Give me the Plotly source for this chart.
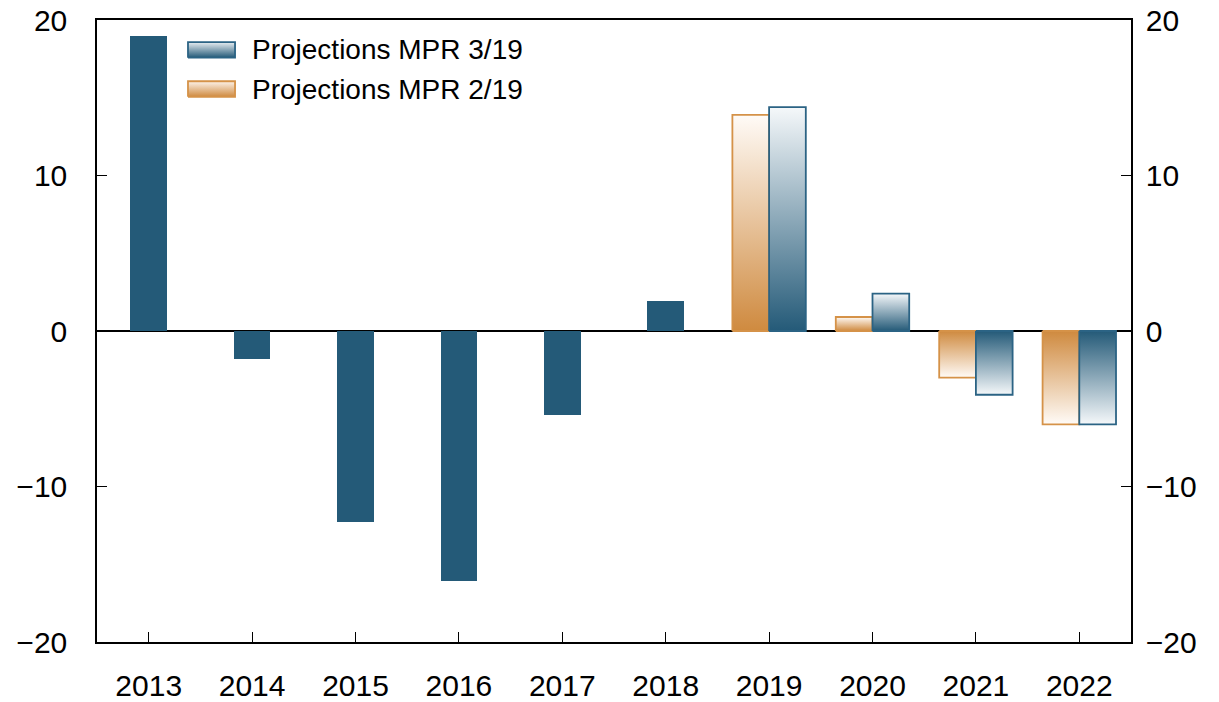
import plotly.graph_objects as go

# ---- data ----
years = ["2013", "2014", "2015", "2016", "2017", "2018", "2019", "2020", "2021", "2022"]
history_years = ["2013", "2014", "2015", "2016", "2017", "2018"]
history_values = [19.0, -1.8, -12.3, -16.1, -5.4, 1.9]
proj_years = ["2019", "2020", "2021", "2022"]
mpr_3_19 = [14.4, 2.4, -4.1, -6.0]
mpr_2_19 = [13.9, 0.9, -3.0, -6.0]
series_names = ["Projections MPR 3/19", "Projections MPR 2/19"]
y_ticks = [-20, -10, 0, 10, 20]

# ---- style ----
BLUE = "#245a78"
BLUE_EDGE = "#2b6384"
BLUE_LIGHT = "#f5f8fa"
ORANGE = "#cf8a3f"
ORANGE_EDGE = "#d59248"
ORANGE_LIGHT = "#fffbf7"
W = 0.355
FONT = "Liberation Sans, Arial, Helvetica, sans-serif"

pos = {y: i for i, y in enumerate(years)}

fig = go.Figure()

fig.add_trace(go.Bar(
    x=[pos[y] for y in history_years], y=history_values, width=W,
    marker=dict(color=BLUE, line=dict(width=0)),
    showlegend=False, hoverinfo="x+y",
))


def grad_poly(x0, x1, y0, y1, dark, light, edge, name, xa="x", ya="y"):
    # gradient: dark at y0 (baseline), light at y1 (bar end)
    cs = [[0, dark], [1, light]] if y1 >= y0 else [[0, light], [1, dark]]
    return go.Scatter(
        x=[x0, x1, x1, x0, x0], y=[y0, y0, y1, y1, y0],
        xaxis=xa, yaxis=ya,
        mode="lines", fill="toself",
        fillgradient=dict(type="vertical", colorscale=cs),
        line=dict(color=edge, width=1.8),
        name=name, showlegend=False, hoverinfo="name+y",
    )


for k, yr in enumerate(proj_years):
    c = pos[yr]
    fig.add_trace(grad_poly(c - W, c, 0, mpr_2_19[k], ORANGE, ORANGE_LIGHT, ORANGE_EDGE, series_names[1]))
    fig.add_trace(grad_poly(c, c + W, 0, mpr_3_19[k], BLUE, BLUE_LIGHT, BLUE_EDGE, series_names[0]))

# dummy for the right-hand axis
fig.add_trace(go.Scatter(x=[None], y=[None], yaxis="y2", showlegend=False, hoverinfo="skip"))

# ---- manual legend (overlay axes in plot-fraction units) ----
leg_items = [
    (series_names[0], BLUE, "#e8eef2", BLUE_EDGE, 0.952),
    (series_names[1], ORANGE, "#fdf3ea", ORANGE_EDGE, 0.889),
]
sw_x0, sw_x1, sw_h = 0.088, 0.1335, 0.0125
annotations = []
for name, dark, light, edge, yc in leg_items:
    fig.add_trace(grad_poly(sw_x0, sw_x1, yc - sw_h, yc + sw_h, dark, light, edge, name,
                            xa="x2", ya="y3"))
    annotations.append(dict(
        x=0.1475, y=yc, xref="paper", yref="paper", xanchor="left", yanchor="middle",
        text=name, showarrow=False, font=dict(size=28, color="black"),
    ))

axis_common = dict(
    ticks="inside", ticklen=10, tickwidth=1.2, tickcolor="black",
    showline=True, linecolor="black", linewidth=1.5,
    showgrid=False, automargin=False, tickfont=dict(size=30),
)

fig.update_layout(
    width=1219, height=702,
    margin=dict(l=97, r=88, t=20, b=60, autoexpand=False),
    plot_bgcolor="white", paper_bgcolor="white",
    font=dict(family=FONT, size=30, color="black"),
    xaxis=dict(
        range=[-0.5, len(years) - 0.5],
        tickvals=list(range(len(years))), ticktext=years,
        mirror=True, zeroline=False, ticklabelstandoff=16,
        **axis_common,
    ),
    yaxis=dict(
        range=[-20, 20], tickvals=y_ticks,
        zeroline=True, zerolinecolor="black", zerolinewidth=1.5,
        ticklabelstandoff=22,
        **axis_common,
    ),
    yaxis2=dict(
        range=[-20, 20], tickvals=y_ticks, overlaying="y", side="right", matches="y",
        zeroline=False, ticklabelstandoff=7,
        **axis_common,
    ),
    xaxis2=dict(range=[0, 1], overlaying="x", visible=False, fixedrange=True),
    yaxis3=dict(range=[0, 1], overlaying="y", visible=False, fixedrange=True),
    annotations=annotations,
    bargap=0,
    showlegend=False,
)

fig.write_html(
    "out.html",
    config={"displayModeBar": False},
    post_script="document.body.style.margin='0px';document.body.style.overflow='hidden';",
)
